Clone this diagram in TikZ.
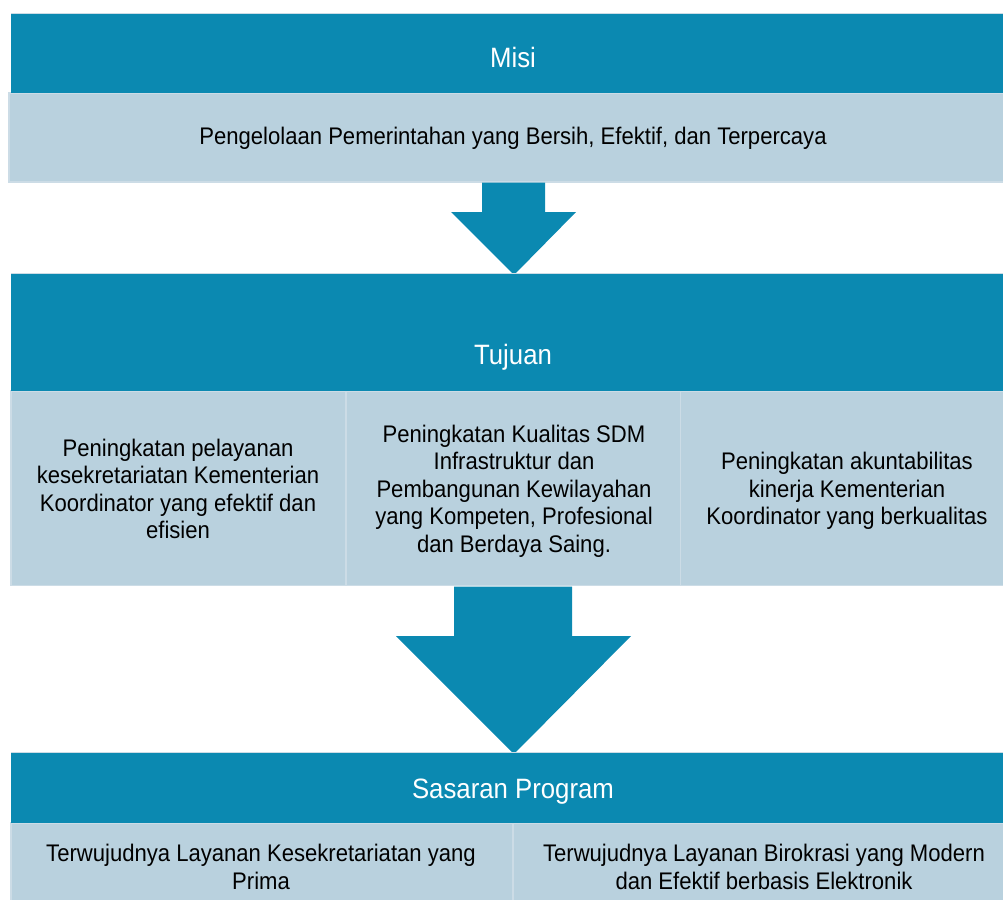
\documentclass[tikz,border=0pt]{standalone}
\usepackage{fontspec}
\setmainfont{Liberation Sans}[FakeStretch=0.92]
\definecolor{hdr}{HTML}{0B89B1}
\definecolor{bdy}{HTML}{B9D1DE}
\definecolor{edge}{HTML}{CCDCE6}
\begin{document}
\begin{tikzpicture}[x=1pt,y=-1pt,
  hdrbox/.style={fill=hdr,draw=edge,line width=0.8pt},
  bdybox/.style={fill=bdy,draw=edge,line width=1.6pt},
  bigarrow/.style={fill=hdr,draw=none},
  title/.style={text=white,font=\fontsize{28}{33}\selectfont,inner sep=0pt},
  body/.style={text=black,font=\fontsize{24}{27.6}\selectfont,align=center,inner sep=0pt}]
\useasboundingbox (0,0) rectangle (1003,899);
% Misi
\fill[hdr] (11,13) rectangle (1015,92);
\draw[edge,line width=0.8pt] (11,13.4) -- (1015,13.4);
\draw[bdybox] (9,92.8) rectangle (1015,182);
\fill[hdr] (11,91.5) rectangle (1015,92.6);
\node[title] (misi) at (513,57) {Misi};
\node[body] (misitxt) at (513,138) {Pengelolaan Pemerintahan yang Bersih, Efektif, dan Terpercaya};
% arrow 1
\fill[bigarrow] (482,182.5) -- (545,182.5) -- (545,212) -- (576,212) -- (514,275) -- (451,212) -- (482,212) -- cycle;
% Tujuan
\fill[hdr] (11,273) rectangle (1015,390);
\draw[edge,line width=0.8pt] (11,273.4) -- (1015,273.4);
\draw[bdybox] (11,390.8) rectangle (346,585.5);
\draw[bdybox] (346,390.8) rectangle (680.5,585.5);
\draw[bdybox] (680.5,390.8) rectangle (1015,585.5);
\fill[hdr] (11,389.5) rectangle (1015,390.6);
\node[title] (tujuan) at (513,357) {Tujuan};
\node[body] (t1) at (178,489) {Peningkatan pelayanan\\kesekretariatan Kementerian\\Koordinator yang efektif dan\\efisien};
\node[body] (t2) at (514,491) {Peningkatan Kualitas SDM\\Infrastruktur dan\\Pembangunan Kewilayahan\\yang Kompeten, Profesional\\dan Berdaya Saing.};
\node[body] (t3) at (847,491) {Peningkatan akuntabilitas\\kinerja Kementerian\\Koordinator yang berkualitas};
% arrow 2
\fill[bigarrow] (454,586.5) -- (572,586.5) -- (572,636) -- (631,636) -- (514,754) -- (396,636) -- (454,636) -- cycle;
% Sasaran
\fill[hdr] (11,752) rectangle (1015,822);
\draw[edge,line width=0.8pt] (11,752.4) -- (1015,752.4);
\draw[bdybox] (11,822.8) rectangle (513,905);
\draw[bdybox] (513,822.8) rectangle (1015,905);
\fill[hdr] (11,821.5) rectangle (1015,822.6);
\node[title] (sasaran) at (513,792) {Sasaran Program};
\node[body] (s1) at (261,867) {Terwujudnya Layanan Kesekretariatan yang\\Prima};
\node[body] (s2) at (764,867) {Terwujudnya Layanan Birokrasi yang Modern\\dan Efektif berbasis Elektronik};
\end{tikzpicture}
\end{document}
